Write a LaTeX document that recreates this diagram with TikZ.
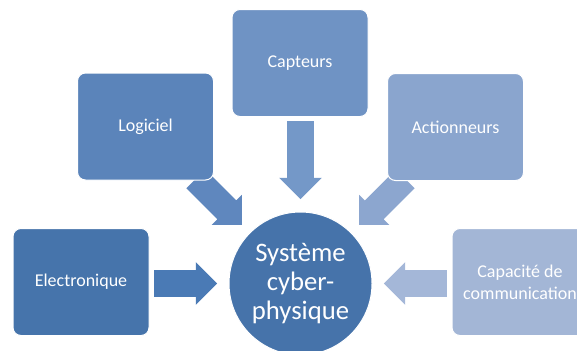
\documentclass[tikz,border=0pt]{standalone}
\usepackage{fontspec}
\setmainfont{Carlito}
\usetikzlibrary{shapes.arrows,calc}

\definecolor{elecblue}{RGB}{70,116,171}
\definecolor{elecarrow}{RGB}{74,122,181}
\definecolor{logiblue}{RGB}{91,132,186}
\definecolor{logiarrow}{RGB}{95,135,190}
\definecolor{captblue}{RGB}{111,147,196}
\definecolor{captarrow}{RGB}{116,152,200}
\definecolor{actblue}{RGB}{138,165,206}
\definecolor{actarrow}{RGB}{140,166,207}
\definecolor{commblue}{RGB}{163,182,214}
\definecolor{commarrow}{RGB}{164,183,216}
\definecolor{sysblue}{RGB}{70,115,170}

\begin{document}
\begin{tikzpicture}[x=0.75pt,y=-0.75pt,
  box/.style={draw=white, line width=0.75pt, rounded corners=6pt,
    minimum width=102pt, minimum height=80.25pt, text=white, align=center,
    font=\fontsize{13.5}{16.5}\selectfont},
  blockarrow/.style={single arrow, single arrow head extend=6pt,
    inner xsep=0pt, inner ysep=9.75pt, minimum width=0pt,
    minimum height=#1, anchor=tip}]
  \clip (0,0) rectangle (577,350);

  % centre
  \node[circle, draw=white, line width=0.75pt, fill=sysblue, minimum size=107.25pt,
    text=white, align=center, font=\fontsize{20}{21.75}\selectfont]
    (sys) at (300.5,283.5) {Système\\cyber-\\physique};

  % block arrows towards the centre
  \node[blockarrow=47.25pt, fill=elecarrow] (aelec) at ($(sys.west)+(-11,0)$) {};
  \node[blockarrow=48.75pt, rotate=-45, fill=logiarrow] (alogi) at ($(sys.north west)+(-7.5,-7.5)$) {};
  \node[blockarrow=58.5pt, rotate=-90, fill=captarrow] (acapt) at ($(sys.north)+(0,-12)$) {};
  \node[blockarrow=48.75pt, rotate=-135, fill=actarrow] (aact) at ($(sys.north east)+(7.5,-7.5)$) {};
  \node[blockarrow=47.25pt, rotate=180, fill=commarrow] (acomm) at ($(sys.east)+(11,0)$) {};

  % boxes
  \node[box, fill=elecblue] (elec) at (81,282) {Electronique};
  \node[box, fill=logiblue] (logi) at (145.5,126.5) {Logiciel};
  \node[box, fill=captblue] (capt) at (300,63) {Capteurs};
  \node[box, fill=actblue] (act) at (455.5,127) {Actionneurs};
  \node[box, fill=commblue] (comm) at (520,282) {Capacité de\\communication};
\end{tikzpicture}
\end{document}
